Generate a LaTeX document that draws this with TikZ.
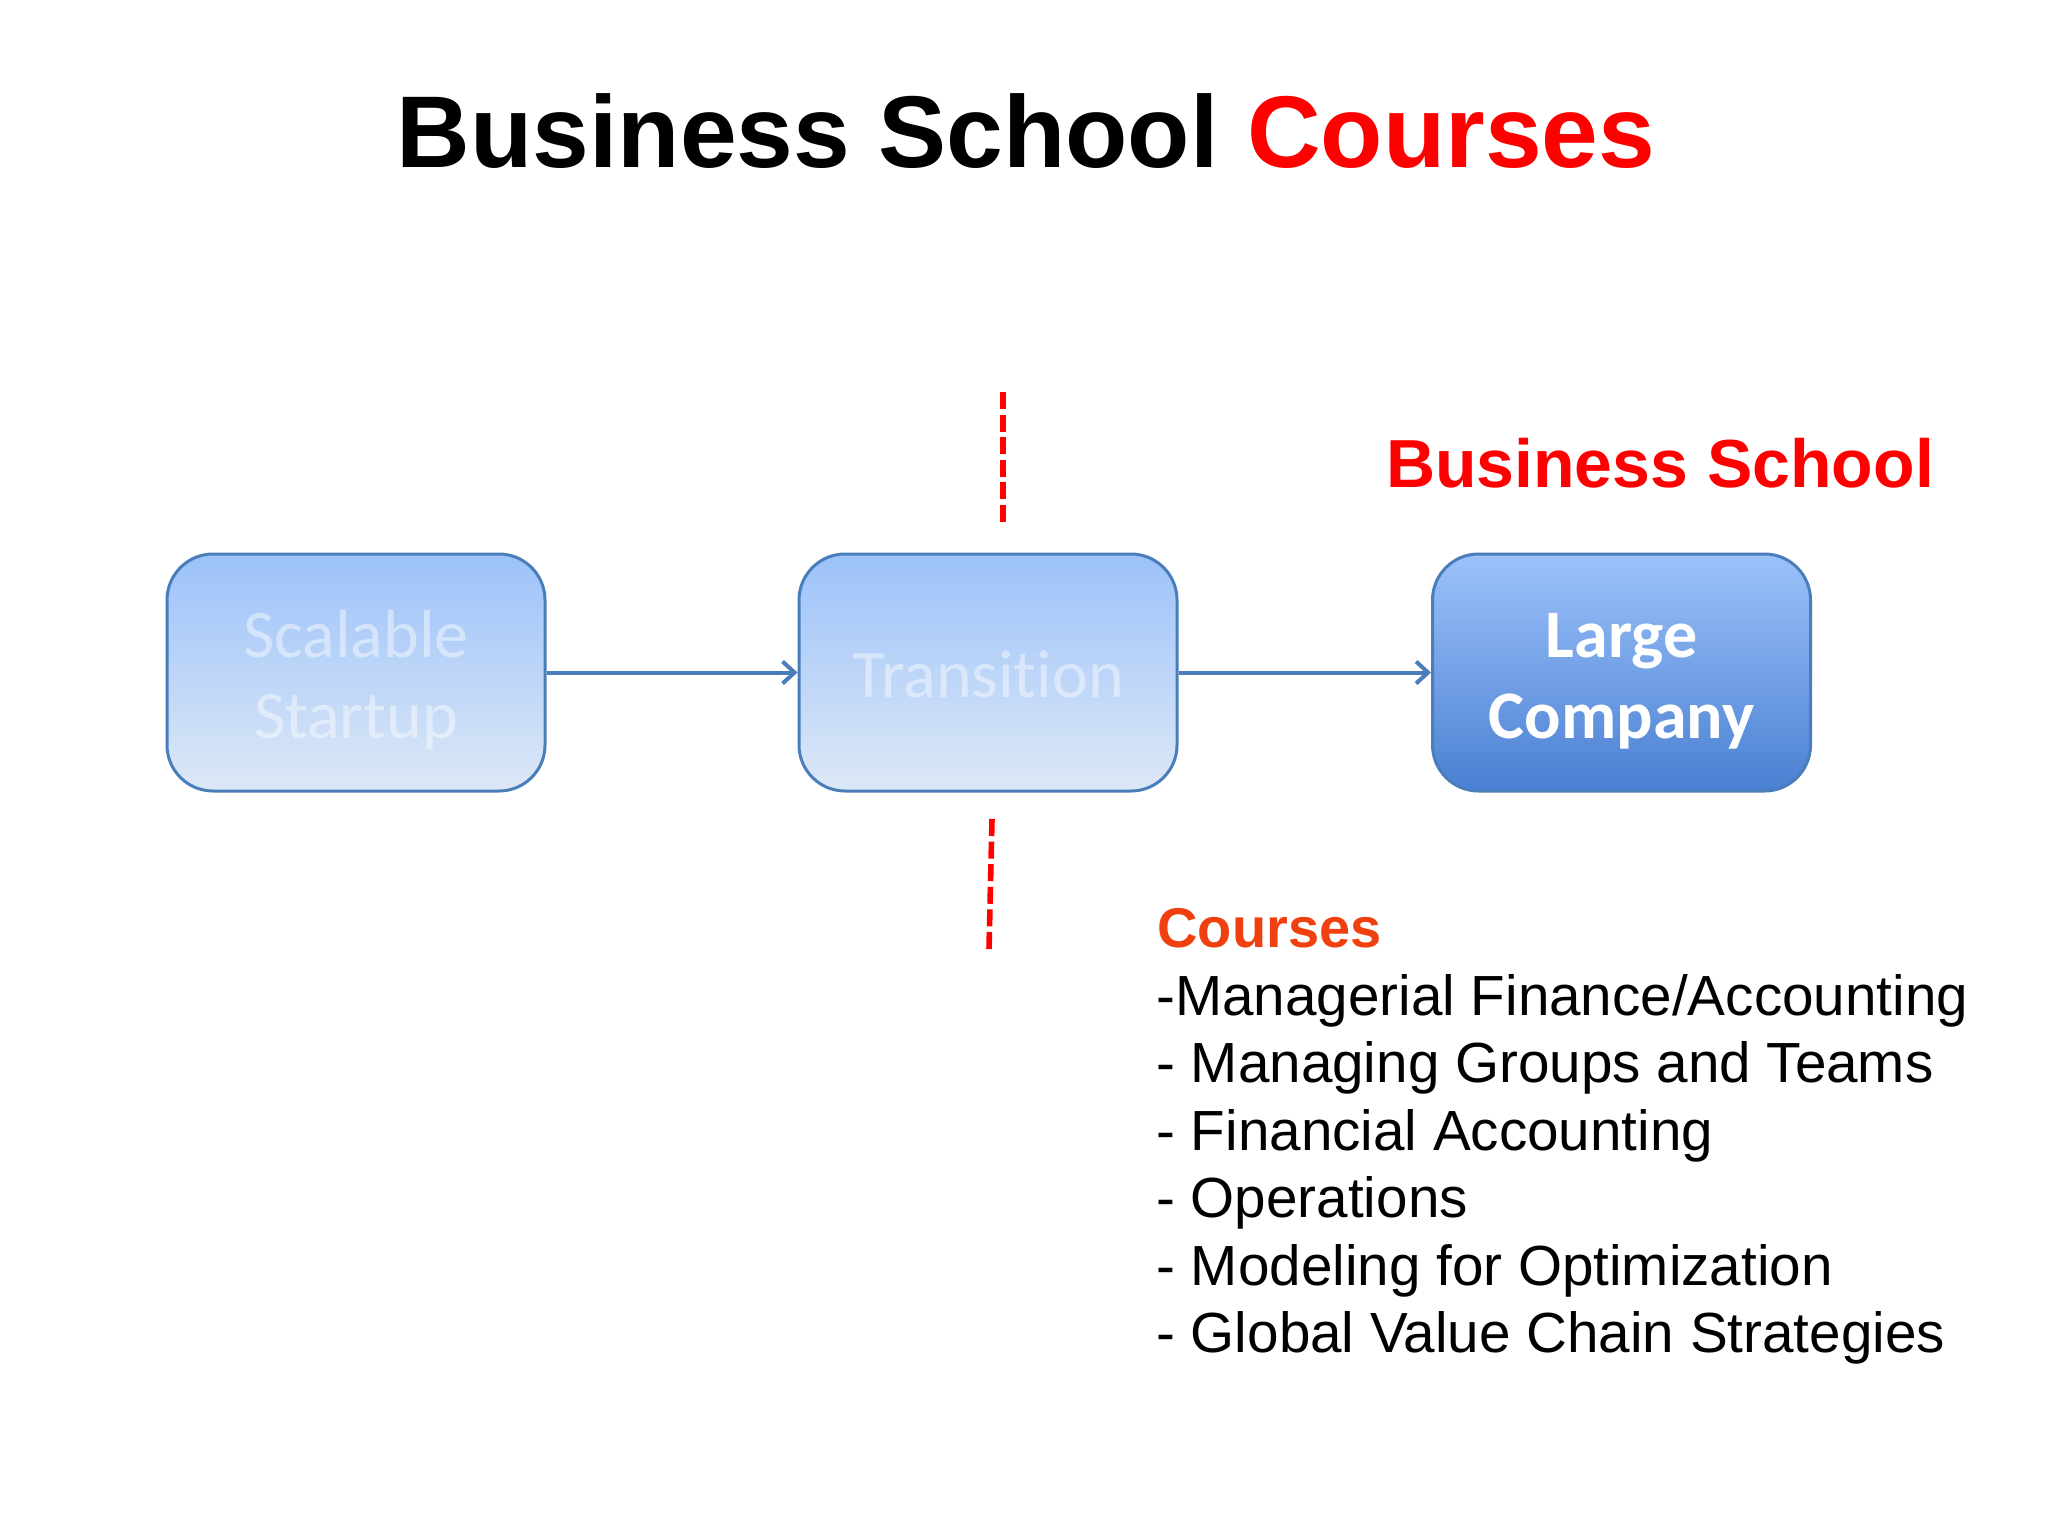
\documentclass[tikz,border=0pt]{standalone}
\usepackage{fontspec}
\setmainfont{Liberation Sans}
\newfontfamily\carlito[Ligatures=NoCommon]{Carlito}
\usetikzlibrary{arrows.meta}
\definecolor{boxborder}{HTML}{4A7EBB}
\definecolor{boxtop}{HTML}{9CC2FA}
\definecolor{fadedmid}{HTML}{AAC6F0}
\definecolor{fadedbot}{HTML}{DDE8F6}
\definecolor{largemid}{HTML}{72A0E6}
\definecolor{largebot}{HTML}{4A80D2}
\definecolor{pptred}{HTML}{FF0000}
\definecolor{courseorange}{HTML}{F0400F}
\newcommand{\twolines}[2]{\begin{tabular}[t]{@{}c@{}}#1\\#2\end{tabular}}
\begin{document}
\begin{tikzpicture}[x=0.5pt,y=-0.5pt,
  stagebox/.style={draw=boxborder, line width=1.5pt, rounded corners=23pt,
    minimum width=189pt, minimum height=118.5pt, inner sep=0pt},
  twoline/.style={text height=0pt, text depth=15.5pt},
  oneline/.style={text height=24.5pt, text depth=0pt},
  fadedbox/.style={stagebox, top color=boxtop, middle color=fadedmid, bottom color=fadedbot,
    text=white, text opacity=0.45, font=\carlito\fontsize{34}{40.5}\selectfont},
  largebox/.style={stagebox, top color=boxtop, middle color=largemid, bottom color=largebot,
    text=white, font=\carlito\bfseries\fontsize{34}{40.5}\selectfont},
  flow/.style={draw=boxborder, line width=2pt, -{Straight Barb[length=6pt,width=11pt,line width=2pt]}},
  divider/.style={draw=pptred, line width=2.8pt, dash pattern=on 8.5pt off 2.8pt},
  listline/.style={anchor=base west, inner sep=0pt, font=\fontsize{28.3}{34}\selectfont}
]
\useasboundingbox[fill=white] (0,0) rectangle (2048,1536);

% title
\node[anchor=base, inner sep=0pt, font=\bfseries\fontsize{51}{60}\selectfont] (title) at (1026,167)
  {Business School \textcolor{pptred}{Courses}};

% stages
\node[fadedbox, twoline] (startup) at (356,672.5) {\twolines{Scalable}{Startup}};
\node[fadedbox, oneline] (transition) at (988,672.5) {Transition};
\node[largebox, twoline] (large) at (1621.5,672.5) {\twolines{Large}{Company}};

\draw[flow] (startup.east) -- (transition.west);
\draw[flow] (transition.east) -- (large.west);

% dividers
\coordinate (dtopA) at (1003,392);
\coordinate (dtopB) at (1003,522);
\coordinate (dbotA) at (992,819);
\coordinate (dbotB) at (989,949);
\draw[divider] (dtopA) -- (dtopB);
\draw[divider] (dbotA) -- (dbotB);

% business school label
\node[anchor=base, inner sep=0pt, text=pptred, font=\bfseries\fontsize{34}{40}\selectfont] (bslabel) at (1660,487) {Business School};

% courses
\node[anchor=base west, inner sep=0pt, text=courseorange, font=\bfseries\fontsize{28}{33.75}\selectfont] (courses) at (1157,947) {Courses};
\node[listline] (c1) at (1156,1015) {-Managerial Finance/Accounting};
\node[listline] (c2) at (1156,1082.5) {- Managing Groups and Teams};
\node[listline] (c3) at (1156,1150) {- Financial Accounting};
\node[listline] (c4) at (1156,1217.5) {- Operations};
\node[listline] (c5) at (1156,1285) {- Modeling for Optimization};
\node[listline] (c6) at (1156,1352.5) {- Global Value Chain Strategies};
\end{tikzpicture}
\end{document}
